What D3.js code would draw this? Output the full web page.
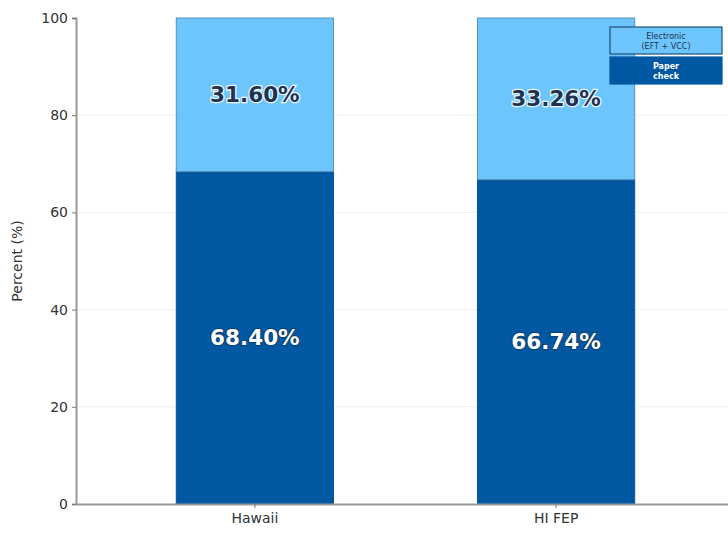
<!DOCTYPE html>
<html>
<head>
<meta charset="utf-8">
<script src="https://cdn.jsdelivr.net/npm/d3@7"></script>
<style>
  body { margin: 0; background: #fff; }
  text { font-family: "DejaVu Sans", sans-serif; }
</style>
</head>
<body>
<div id="chart"></div>
<script>
const categories = ["Hawaii", "HI FEP"];
const paperCheck = [68.40, 66.74];
const electronic = [31.60, 33.26];
const legendLines = [["Electronic", "(EFT + VCC)"], ["Paper", "check"]];
const yTicks = [0, 20, 40, 60, 80, 100];

const width = 728, height = 533;
const margin = {top: 18, right: -7, bottom: 29, left: 76};
const colors = {paper: "#0058a2", elec: "#6cc6fd"};

const svg = d3.select("#chart").append("svg")
  .attr("width", width)
  .attr("height", height);

const x = d3.scaleBand()
  .domain(categories)
  .range([margin.left, width - margin.right])
  .paddingInner(0.478)
  .paddingOuter(0.333);

const y = d3.scaleLinear()
  .domain([0, 100])
  .range([height - margin.bottom, margin.top]);

// faint grid
svg.append("g")
  .selectAll("line")
  .data(yTicks.filter(d => d > 0 && d < 100))
  .join("line")
  .attr("x1", margin.left)
  .attr("x2", width)
  .attr("y1", d => y(d))
  .attr("y2", d => y(d))
  .attr("stroke", "#f0f0f0")
  .attr("stroke-width", 1);

const rows = categories.map((c, i) => ({cat: c, paper: paperCheck[i], elec: electronic[i]}));
const stack = d3.stack().keys(["paper", "elec"])(rows);

svg.append("g")
  .selectAll("g")
  .data(stack)
  .join("g")
  .attr("fill", d => colors[d.key])
  .attr("stroke", d => d.key === "elec" ? "#5a8fb5" : colors.paper)
  .attr("stroke-width", 1)
  .selectAll("rect")
  .data(d => d)
  .join("rect")
  .attr("x", d => x(d.data.cat))
  .attr("width", x.bandwidth())
  .attr("y", d => y(d[1]))
  .attr("height", d => y(d[0]) - y(d[1]));

// value labels
stack.forEach(s => {
  const dark = s.key === "paper";
  svg.append("g")
    .selectAll("text")
    .data(s)
    .join("text")
    .attr("x", d => x(d.data.cat) + x.bandwidth() / 2)
    .attr("y", d => y((d[0] + d[1]) / 2))
    .attr("text-anchor", "middle")
    .attr("dominant-baseline", "central")
    .attr("font-size", 21.5)
    .attr("font-weight", "bold")
    .attr("fill", dark ? "#ffffff" : "#1e3350")
    .attr("stroke", dark ? "#16385c" : "#ffffff")
    .attr("stroke-width", dark ? 2 : 2.5)
    .attr("stroke-opacity", dark ? 0.8 : 0.9)
    .attr("paint-order", "stroke")
    .text(d => (d[1] - d[0]).toFixed(2) + "%");
});

// axes
const yAxis = svg.append("g")
  .attr("transform", `translate(${margin.left},0)`)
  .call(d3.axisLeft(y).tickValues(yTicks).tickSize(4).tickPadding(4));
yAxis.select(".domain").attr("stroke", "#999").attr("stroke-width", 2);
yAxis.selectAll(".tick line").attr("stroke", "#777");
yAxis.selectAll(".tick text").attr("font-size", 14).attr("fill", "#333")
  .attr("font-family", "DejaVu Sans, sans-serif");

const xAxis = svg.append("g")
  .attr("transform", `translate(0,${y(0)})`)
  .call(d3.axisBottom(x).tickSize(4).tickPadding(5).tickSizeOuter(0));
xAxis.select(".domain").attr("stroke", "#999").attr("stroke-width", 2);
xAxis.selectAll(".tick line").attr("stroke", "#777");
xAxis.selectAll(".tick text").attr("font-size", 14).attr("fill", "#333")
  .attr("font-family", "DejaVu Sans, sans-serif");

svg.append("text")
  .attr("transform", `translate(22,${(y(0) + y(100)) / 2}) rotate(-90)`)
  .attr("text-anchor", "middle")
  .attr("font-size", 14)
  .attr("fill", "#333")
  .text("Percent (%)");

// legend
const legend = svg.append("g").attr("transform", "translate(610,27)");
const legItems = [
  {lines: legendLines[0], fill: colors.elec, stroke: "#1d4f7a", text: "#1e3350", bold: false},
  {lines: legendLines[1], fill: colors.paper, stroke: colors.paper, text: "#ffffff", bold: true}
];
legItems.forEach((d, i) => {
  const g = legend.append("g").attr("transform", `translate(0,${i * 30})`);
  g.append("rect")
    .attr("width", 112).attr("height", 27)
    .attr("fill", d.fill).attr("stroke", d.stroke).attr("stroke-width", 1.2);
  d.lines.forEach((t, j) => {
    g.append("text")
      .attr("x", 56).attr("y", 9 + j * 10)
      .attr("text-anchor", "middle")
      .attr("dominant-baseline", "central")
      .attr("font-size", 8)
      .attr("font-weight", d.bold ? "bold" : "normal")
      .attr("fill", d.text)
      .text(t);
  });
});
</script>
</body>
</html>
